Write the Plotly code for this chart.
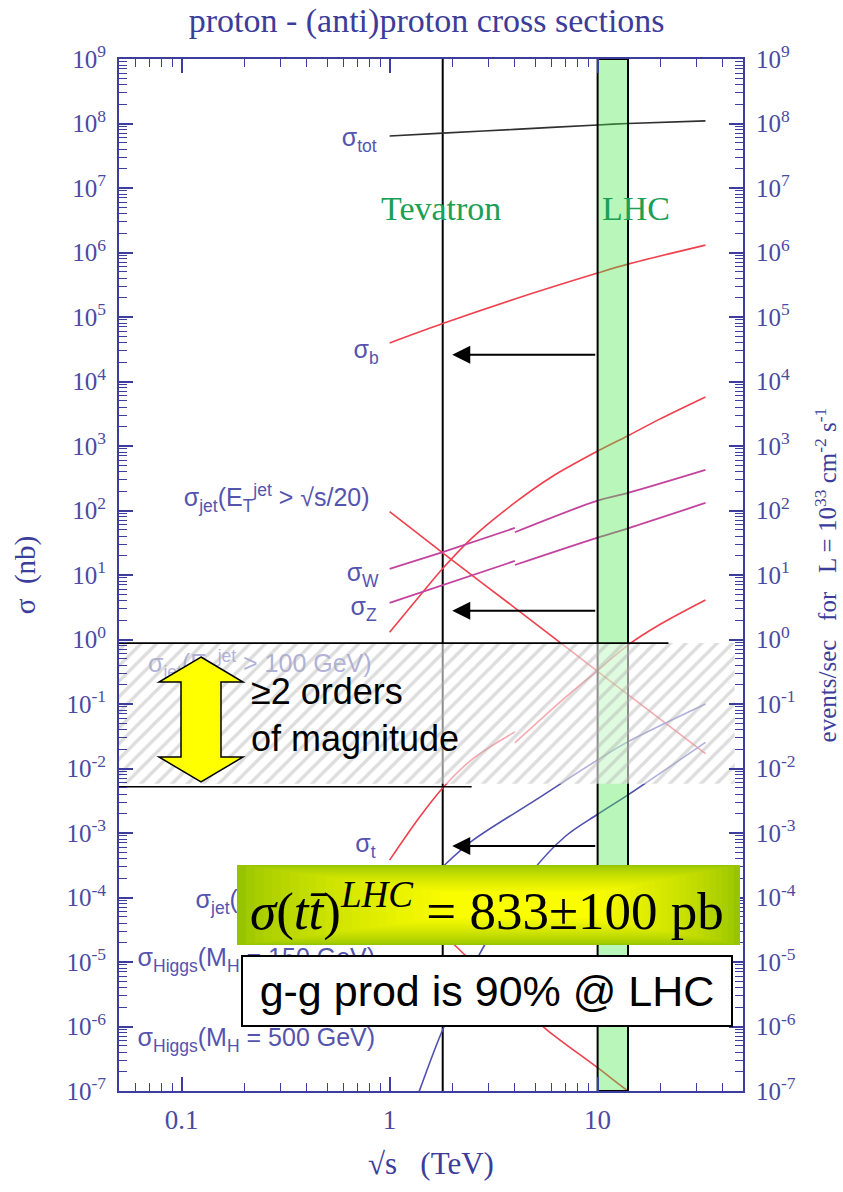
import numpy as np
import plotly.graph_objects as go

# ---------------- data ----------------
TOT_X = [1, 1.8, 4, 10, 14, 33]
TOT_Y = [6.4e7, 7.1e7, 8.1e7, 9.5e7, 1.0e8, 1.1e8]

B_X = [1, 1.8, 4, 10, 14, 33]
B_Y = [3.95e4, 7.9e4, 1.9e5, 4.8e5, 6.6e5, 1.3e6]

JET20_X = [1, 1.8, 4, 10, 14, 33]
JET20_Y = [96, 22, 3.1, 0.32, 0.14, 0.017]

JET100_X = [1, 1.4, 1.8, 2.5, 4, 6, 10, 14, 20, 33]
JET100_Y = [1.3, 4.8, 12.6, 38, 132, 331, 832, 1445, 2630, 5750]

W_PPBAR_X = [1, 1.8, 4]
W_PPBAR_Y = [12.4, 22.7, 53.6]
W_PP_X = [4, 10, 14, 33]
W_PP_Y = [46, 142, 187, 425]

Z_PPBAR_X = [1, 1.8, 4]
Z_PPBAR_Y = [3.7, 7.0, 16.5]
Z_PP_X = [4, 10, 14, 33]
Z_PP_Y = [14.3, 38, 53, 131]

TOP_PPBAR_X = [1, 1.4, 1.8, 2.5, 4]
TOP_PPBAR_Y = [3.8e-4, 1.8e-3, 5.0e-3, 1.4e-2, 3.7e-2]
TOP_PP_X = [4, 7, 10, 14, 20, 33]
TOP_PP_Y = [0.025, 0.127, 0.33, 0.82, 1.72, 4.1]

JET4_X = [1, 1.8, 2.5, 4, 5.7, 10, 14, 20]
JET4_Y = [1.6e-4, 2.75e-5, 1.0e-5, 2.5e-6, 8.9e-7, 2.3e-7, 1.0e-7, 4.5e-8]

H150_X = [1, 1.4, 1.8, 2.5, 5, 10, 14, 33]
H150_Y = [4.1e-5, 1.35e-4, 3.0e-4, 7.6e-4, 3.2e-3, 1.36e-2, 2.6e-2, 0.1]

H500_X = [1.3, 1.4, 1.8, 2.8, 4.7, 7, 10, 14, 33]
H500_Y = [5.6e-8, 1.07e-7, 8.9e-7, 1.62e-5, 2.24e-4, 8.9e-4, 1.95e-3, 3.9e-3, 0.0254]

TEVATRON = 1.8
LHC_BAND = [10, 14]
ARROW_Y = [2.6e4, 2.8, 6.3e-4]
ARROW_FROM, ARROW_TO = 9.9, 2.0
HATCH_X = [0.05, 45.6]
HATCH_Y = [0.0058, 0.88]
HLINE_UP = (0.88, 21.9)
HLINE_LO = (0.0052, 2.48)

X_TICKS = [0.1, 1, 10]
X_TICKTEXT = ["0.1", "1", "10"]
Y_EXP = list(range(-7, 10))

# ---------------- styling ----------------
AXIS = "#3d3d9e"
TICKC = "#4a4aa2"
LABEL = "#5454ae"
RED = "#f0404e"
MAG = "#c2449e"
BLUE = "#5050b0"
GREEN_TXT = "#1ba055"
SERIF = "Liberation Serif, Times New Roman, serif"
SANS = "Liberation Sans, Arial, sans-serif"

W, H = 843, 1192
L, R, T, B = 119, 743, 59, 1091


def px(x):
    return (x - L) / (R - L)


def py(y):
    return (B - y) / (B - T)


def dx(xp):  # pixel -> data (x), for label placement
    return 10 ** ((xp - 390) / 208)


def dy(yp):  # pixel -> data (y), for label placement
    return 10 ** (9 - (yp - 59) / 64.5)


fig = go.Figure()


def line(x, y, color, width=1.6, smooth=False):
    fig.add_trace(go.Scatter(x=x, y=y, mode="lines",
                             line=dict(color=color, width=width,
                                       shape="spline" if smooth else "linear", smoothing=0.9),
                             showlegend=False, hoverinfo="skip"))


# Tevatron line
line([TEVATRON, TEVATRON], [1e-7, 1e9], "black", 2)

# curves
line(TOT_X, TOT_Y, "#303030", smooth=True)
line(B_X, B_Y, RED, smooth=True)
line(JET20_X, JET20_Y, RED, smooth=True)
line(JET100_X, JET100_Y, RED, smooth=True)
line(W_PPBAR_X, W_PPBAR_Y, MAG, 1.8)
line(W_PP_X, W_PP_Y, MAG, 1.8, smooth=True)
line(Z_PPBAR_X, Z_PPBAR_Y, MAG, 1.8)
line(Z_PP_X, Z_PP_Y, MAG, 1.8, smooth=True)
line(TOP_PPBAR_X, TOP_PPBAR_Y, RED, smooth=True)
line(TOP_PP_X, TOP_PP_Y, RED, smooth=True)
line(JET4_X, JET4_Y, RED, smooth=True)
line(H150_X, H150_Y, BLUE, smooth=True)
line(H500_X, H500_Y, BLUE, smooth=True)

# LHC band (semi transparent, over the curves)
fig.add_trace(go.Scatter(
    x=[LHC_BAND[0], LHC_BAND[1], LHC_BAND[1], LHC_BAND[0], LHC_BAND[0]],
    y=[1e-7, 1e-7, 1e9, 1e9, 1e-7], mode="lines", fill="toself",
    fillcolor="rgba(70,232,70,0.38)", line=dict(color="black", width=2),
    showlegend=False, hoverinfo="skip"))

# curve labels (as trace text, so the boxes / hatch drawn later cover them)
labels = [
    ("σ<sub>tot</sub>", 377, 140, "middle left"),
    ("σ<sub>b</sub>", 379, 352, "middle left"),
    ("σ<sub>jet</sub>(E<sub>T</sub><sup>jet</sup> > √s/20)", 370, 500, "middle left"),
    ("σ<sub>W</sub>", 379, 575, "middle left"),
    ("σ<sub>Z</sub>", 377, 609, "middle left"),
    ("σ<sub>jet</sub>(E<sub>T</sub><sup>jet</sup> > 100 GeV)", 372, 666, "middle left"),
    ("σ<sub>t</sub>", 376, 846, "middle left"),
    ("σ<sub>jet</sub>(E<sub>T</sub><sup>jet</sup> > √s/4)", 196, 902, "middle right"),
    ("σ<sub>Higgs</sub>(M<sub>H</sub> = 150 GeV)", 138, 960, "middle right"),
    ("σ<sub>Higgs</sub>(M<sub>H</sub> = 500 GeV)", 138, 1040, "middle right"),
]
for txt, x, y, pos in labels:
    fig.add_trace(go.Scatter(x=[dx(x)], y=[dy(y)], mode="text", text=[txt], textposition=pos,
                             textfont=dict(family=SANS, size=25, color=LABEL),
                             showlegend=False, hoverinfo="skip", cliponaxis=False))

# hatched overlay
fig.add_trace(go.Scatter(
    x=[HATCH_X[0], HATCH_X[1], HATCH_X[1], HATCH_X[0], HATCH_X[0]],
    y=[HATCH_Y[0], HATCH_Y[0], HATCH_Y[1], HATCH_Y[1], HATCH_Y[0]],
    mode="lines", line=dict(width=0), fill="toself",
    fillcolor="rgba(255,255,255,0.55)",
    fillpattern=dict(shape="/", fgcolor="rgba(170,170,170,0.8)", bgcolor="rgba(255,255,255,0.55)",
                     size=11, solidity=0.3),
    showlegend=False, hoverinfo="skip"))

# horizontal reference lines
line([0.05, HLINE_UP[1]], [HLINE_UP[0], HLINE_UP[0]], "black", 1.6)
line([0.05, HLINE_LO[1]], [HLINE_LO[0], HLINE_LO[0]], "black", 1.6)

# invisible trace for the right axis
fig.add_trace(go.Scatter(x=[1], y=[1], yaxis="y2", mode="markers", marker=dict(opacity=0),
                         showlegend=False, hoverinfo="skip"))

ann = []
# arrows
for v in ARROW_Y:
    ann.append(dict(x=np.log10(ARROW_TO), y=np.log10(v), ax=np.log10(ARROW_FROM), ay=np.log10(v),
                    xref="x", yref="y", axref="x", ayref="y", text="", showarrow=True,
                    arrowhead=2, arrowsize=1.8, arrowwidth=2, arrowcolor="black", standoff=0))

ann.append(dict(x=px(441), y=py(208), xref="paper", yref="paper", text="Tevatron", showarrow=False,
                xanchor="center", yanchor="middle",
                font=dict(family=SERIF, size=34, color=GREEN_TXT)))
ann.append(dict(x=px(636), y=py(208), xref="paper", yref="paper", text="LHC", showarrow=False,
                xanchor="center", yanchor="middle",
                font=dict(family=SERIF, size=34, color=GREEN_TXT)))

ann.append(dict(x=px(249), y=py(715), xref="paper", yref="paper",
                text="≥2 orders<br>of magnitude", showarrow=False, align="left",
                xanchor="left", yanchor="middle", font=dict(family=SANS, size=36, color="black")))

ann.append(dict(x=px(487), y=py(907), xref="paper", yref="paper",
                text="<i>σ</i>(<i>tt\u0304</i>)<sup><i>LHC</i></sup> = 833±100 pb",
                showarrow=False, xanchor="center", yanchor="middle",
                font=dict(family=SERIF, size=53, color="black")))

ann.append(dict(x=px(486.5), y=py(991), xref="paper", yref="paper",
                text="g-g prod is 90% @ LHC", showarrow=False, xanchor="center", yanchor="middle",
                width=488, height=68, borderpad=0, borderwidth=2, bordercolor="black",
                bgcolor="white", font=dict(family=SANS, size=43, color="black")))

shapes = []
# gradient box (nested rectangles)
outer = (237, 865, 740, 945)
inner = (440, 892, 600, 918)
c_out = np.array([150, 196, 0])
c_in = np.array([250, 252, 0])
N = 24
for i in range(N):
    t = i / (N - 1)
    l_ = outer[0] + (inner[0] - outer[0]) * t
    t_ = outer[1] + (inner[1] - outer[1]) * t
    r_ = outer[2] + (inner[2] - outer[2]) * t
    b_ = outer[3] + (inner[3] - outer[3]) * t
    c = c_out + (c_in - c_out) * (t ** 0.7)
    shapes.append(dict(type="rect", xref="paper", yref="paper", x0=px(l_), x1=px(r_),
                       y0=py(b_), y1=py(t_), fillcolor="rgb(%d,%d,%d)" % tuple(c.astype(int)),
                       line=dict(width=0), layer="above"))

# yellow double arrow
pts = [(201, 657), (243, 682), (221, 682), (221, 757), (243, 757), (201, 782),
       (159, 757), (181, 757), (181, 682), (159, 682)]
path = "M " + " L ".join("%.5f,%.5f" % (px(a), py(b)) for a, b in pts) + " Z"
shapes.append(dict(type="path", path=path, xref="paper", yref="paper", fillcolor="#ffff00",
                   line=dict(color="black", width=1.5), layer="above"))

y_ticktext = ["10<sup>%d</sup>" % e for e in Y_EXP]
y_minor = [k * 10.0 ** e for e in range(-7, 9) for k in range(2, 10)]
x_minor = [k * 10.0 ** e for e in range(-2, 2) for k in range(2, 10) if 0.05 <= k * 10.0 ** e <= 50]

yax_common = dict(type="log", range=[-7, 9], tickmode="array", tickvals=[10.0 ** e for e in Y_EXP],
                  ticktext=y_ticktext, ticks="inside", ticklen=14, tickwidth=1.5, tickcolor=AXIS,
                  showline=True, linecolor=AXIS, linewidth=2, showgrid=False, zeroline=False,
                  ticklabelstandoff=6, automargin=False,
                  tickfont=dict(family=SERIF, size=25, color=TICKC),
                  minor=dict(tickmode="array", tickvals=y_minor, ticks="inside", ticklen=8,
                             tickwidth=1.2, tickcolor=AXIS, showgrid=False))

fig.update_layout(
    width=W, height=H, margin=dict(l=L, r=W - R, t=T, b=H - B),
    paper_bgcolor="white", plot_bgcolor="white", showlegend=False,
    title=dict(text="proton - (anti)proton cross sections", x=0.493, xref="paper", xanchor="center",
               y=1 - 20 / H, yref="container", yanchor="middle",
               font=dict(family=SERIF, size=34, color="#3c3c9a")),
    xaxis=dict(type="log", range=[np.log10(0.05), np.log10(50)], tickmode="array",
               tickvals=X_TICKS, ticktext=X_TICKTEXT, ticks="inside", ticklen=14, tickwidth=1.5,
               tickcolor=AXIS, showline=True, linecolor=AXIS, linewidth=2, mirror="ticks",
               showgrid=False, zeroline=False, tickfont=dict(family=SERIF, size=27, color=TICKC),
               ticklabelstandoff=4, automargin=False,
               minor=dict(tickmode="array", tickvals=x_minor, ticks="inside", ticklen=8,
                          tickwidth=1.2, tickcolor=AXIS, showgrid=False),
               title=dict(text="√s   (TeV)", standoff=18, font=dict(family=SERIF, size=31, color="#3c3c9a"))),
    yaxis=dict(**yax_common, side="left",
               title=dict(text="σ  (nb)", standoff=22, font=dict(family=SERIF, size=29, color="#3c3c9a"))),
    yaxis2=dict(**yax_common, side="right", overlaying="y",
                title=dict(text="events/sec   for   L = 10<sup>33</sup> cm<sup>-2</sup> s<sup>-1</sup>",
                           standoff=24, font=dict(family=SERIF, size=25, color="#3c3c9a"))),
    annotations=ann, shapes=shapes,
)

fig.write_html("out.html")
